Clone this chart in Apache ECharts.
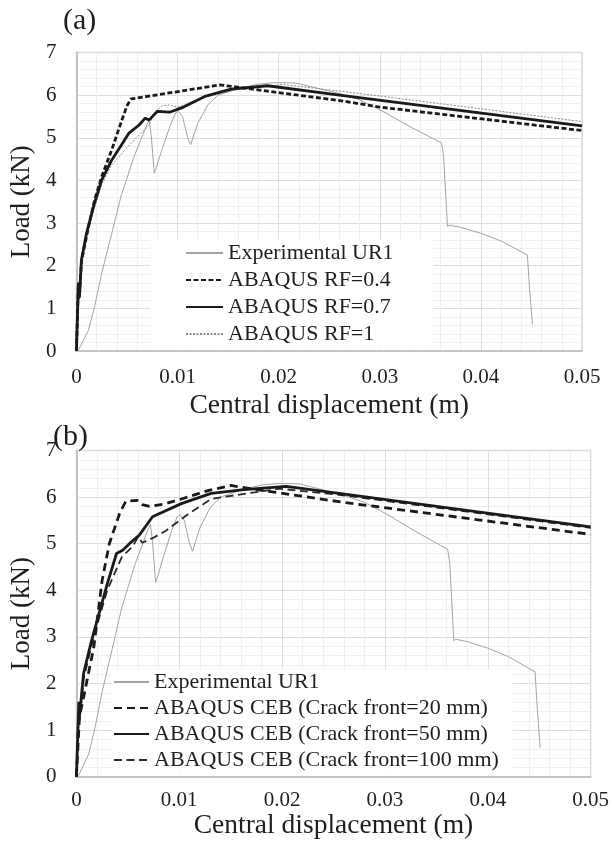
<!DOCTYPE html>
<html>
<head>
<meta charset="utf-8">
<script src="https://cdn.jsdelivr.net/npm/echarts@6/dist/echarts.min.js"></script>
<style>html,body{margin:0;padding:0;background:#fff}#c{width:612px;height:841px}</style>
</head>
<body>
<div id="c"></div>
<script>
// ---------- data ----------
const xTickLabels = ['0', '0.01', '0.02', '0.03', '0.04', '0.05'];
const yTickLabels = ['0', '1', '2', '3', '4', '5', '6', '7'];

const experimentalUR1 = [
  [0,0],[0.0002,0.02],[0.0012,0.49],[0.0018,1.04],[0.0025,1.82],[0.0035,2.76],[0.0044,3.62],
  [0.0057,4.56],[0.0069,5.27],[0.0072,5.42],[0.0074,5.05],[0.0077,4.17],[0.0079,4.3],[0.0085,4.75],
  [0.0093,5.3],[0.0098,5.58],[0.0101,5.62],[0.0105,5.5],[0.0110,5.0],[0.0113,4.84],[0.0120,5.34],
  [0.0130,5.77],[0.0140,6.0],[0.0160,6.15],[0.0180,6.26],[0.0195,6.29],[0.0210,6.29],[0.0218,6.28],
  [0.0237,6.17],[0.0260,6.04],[0.0280,5.89],[0.0303,5.62],[0.0330,5.26],[0.0361,4.88],[0.0363,4.6],
  [0.0367,2.92],[0.0369,2.95],[0.0380,2.9],[0.0400,2.76],[0.0420,2.58],[0.0446,2.25],[0.0448,1.5],[0.0451,0.62]
];
const rf04 = [
  [0,0],[0.0002,1.6],[0.0003,1.3],[0.0005,2.1],[0.0012,2.92],[0.0018,3.54],[0.0025,4.09],[0.0035,4.72],
  [0.0044,5.35],[0.0050,5.75],[0.0054,5.91],[0.0142,6.24],[0.0264,5.86],[0.0300,5.72],[0.0500,5.17]
];
const rf07 = [
  [0,0],[0.0002,1.6],[0.0003,1.25],[0.0005,2.14],[0.0010,2.76],[0.0017,3.39],[0.0025,4.01],[0.0035,4.48],
  [0.0045,4.85],[0.0052,5.11],[0.0062,5.3],[0.0068,5.46],[0.0072,5.42],[0.0080,5.62],[0.0092,5.6],
  [0.0104,5.70],[0.0127,5.97],[0.0153,6.14],[0.0189,6.22],[0.0264,5.99],[0.0500,5.28]
];
const rf1 = [
  [0,0],[0.0002,1.5],[0.0003,1.2],[0.0005,2.0],[0.0010,2.7],[0.0017,3.3],[0.0025,3.9],[0.0035,4.37],
  [0.0054,4.87],[0.0072,5.3],[0.0078,5.62],[0.0085,5.75],[0.0092,5.77],[0.0100,5.72],[0.0127,5.95],
  [0.0160,6.14],[0.0205,6.25],[0.0300,5.98],[0.0500,5.38]
];
const ceb20 = [
  [0,0],[0.0003,1.3],[0.0006,1.6],[0.0017,2.79],[0.0025,4.21],[0.0032,5.0],[0.0042,5.65],[0.0048,5.91],
  [0.0059,5.93],[0.0064,5.84],[0.0071,5.8],[0.0085,5.85],[0.0102,5.96],[0.0128,6.14],[0.0150,6.25],
  [0.0182,6.14],[0.0259,5.89],[0.0500,5.2]
];
const ceb50 = [
  [0,0],[0.00024,1.61],[0.0003,1.3],[0.0007,2.22],[0.0014,2.86],[0.0022,3.5],[0.0030,4.14],[0.0039,4.79],
  [0.0045,4.86],[0.0053,5.03],[0.0061,5.18],[0.0074,5.58],[0.0102,5.86],[0.0131,6.08],[0.0163,6.16],
  [0.0204,6.23],[0.0259,6.07],[0.0500,5.36]
];
const ceb100 = [
  [0,0],[0.0002,1.4],[0.0003,1.2],[0.0007,2.1],[0.0014,2.75],[0.0022,3.4],[0.0030,4.0],[0.0044,4.71],
  [0.0055,4.95],[0.0060,5.15],[0.0064,5.02],[0.0075,5.13],[0.0087,5.28],[0.0109,5.64],[0.0131,5.96],
  [0.0163,6.07],[0.0198,6.18],[0.0259,6.04],[0.0500,5.34]
];

// ---------- styles ----------
const FONT = "'Liberation Serif','Times New Roman',serif";
const TXT = '#1e1e1e';

function xAxisCfg(gridIndex, labelMargin, nameGap) {
  return {
    type: 'value', gridIndex, min: 0, max: 0.05, interval: 0.01,
    name: 'Central displacement (m)', nameLocation: 'middle', nameGap,
    nameTextStyle: { fontFamily: FONT, fontSize: 27.5, color: TXT },
    axisLine: { show: true, onZero: false, lineStyle: { color: '#c4c4c4', width: 2 } },
    axisTick: { show: false },
    axisLabel: { margin: labelMargin, fontFamily: FONT, fontSize: 21, color: TXT,
      formatter: v => xTickLabels[Math.round(v / 0.01)] },
    splitLine: { show: true, lineStyle: { color: '#dcdcdc', width: 1 } },
    minorTick: { show: false, splitNumber: 5 },
    minorSplitLine: { show: true, lineStyle: { color: '#efefef', width: 1 } }
  };
}
function yAxisCfg(gridIndex) {
  return {
    type: 'value', gridIndex, min: 0, max: 7, interval: 1,
    name: 'Load (kN)', nameLocation: 'middle', nameGap: 35,
    nameTextStyle: { fontFamily: FONT, fontSize: 27, color: TXT },
    axisLine: { show: true, lineStyle: { color: '#c4c4c4', width: 2 } },
    axisTick: { show: false },
    axisLabel: { margin: 20, fontFamily: FONT, fontSize: 21, color: TXT,
      formatter: v => yTickLabels[Math.round(v)] },
    splitLine: { show: true, lineStyle: { color: '#dcdcdc', width: 1 } },
    minorTick: { show: false, splitNumber: 5 },
    minorSplitLine: { show: true, lineStyle: { color: '#efefef', width: 1 } }
  };
}
function line(name, data, idx, lineStyle, z) {
  return { type: 'line', name, data, xAxisIndex: idx, yAxisIndex: idx, symbol: 'none',
    showSymbol: false, smooth: false, lineStyle, z, animation: false, clip: true,
    itemStyle: { color: lineStyle.color } };
}
const expStyle = { color: '#a3a3a3', width: 1, type: 'solid' };

const option = {
  backgroundColor: '#fff',
  animation: false,
  title: [
    { text: '(a)', left: 63, top: 6, padding: 0, textStyle: { fontFamily: FONT, fontSize: 30, fontWeight: 'normal', color: TXT } },
    { text: '(b)', left: 53, top: 422, padding: 0, textStyle: { fontFamily: FONT, fontSize: 30, fontWeight: 'normal', color: TXT } }
  ],
  grid: [
    { left: 70, top: 52.5, width: 512, height: 298.5, show: true, borderColor: '#dcdcdc', borderWidth: 1.5, backgroundColor: 'transparent' },
    { left: 69.5, top: 450.5, width: 523, height: 326.3, show: true, borderColor: '#dcdcdc', borderWidth: 1.5, backgroundColor: 'transparent' }
  ],
  xAxis: [xAxisCfg(0, 16, 41), xAxisCfg(1, 13, 34)],
  yAxis: [yAxisCfg(0), yAxisCfg(1)],
  legend: [
    {
      orient: 'vertical', left: 150, top: 240, padding: [2, 40, 4, 35], itemGap: 5,
      itemWidth: 37, itemHeight: 14, backgroundColor: '#fff', selectedMode: false,
      itemStyle: { opacity: 0 },
      textStyle: { fontFamily: FONT, fontSize: 22, color: TXT },
      data: ['Experimental UR1', 'ABAQUS RF=0.4', 'ABAQUS RF=0.7', 'ABAQUS RF=1']
    },
    {
      orient: 'vertical', left: 112, top: 669, padding: [2, 14, 4, 1], itemGap: 4,
      itemWidth: 35, itemHeight: 14, backgroundColor: '#fff', selectedMode: false,
      itemStyle: { opacity: 0 },
      textStyle: { fontFamily: FONT, fontSize: 22, color: TXT },
      data: ['Experimental UR1 ', 'ABAQUS CEB (Crack front=20 mm)', 'ABAQUS CEB (Crack front=50 mm)', 'ABAQUS CEB (Crack front=100 mm)']
    }
  ],
  series: [
    line('Experimental UR1', experimentalUR1, 0, expStyle, 2),
    line('ABAQUS RF=1', rf1, 0, { color: '#8c8c8c', width: 1, type: [2, 1.5] }, 3),
    line('ABAQUS RF=0.4', rf04, 0, { color: '#1a1a1a', width: 2.8, type: [5, 2.5] }, 4),
    line('ABAQUS RF=0.7', rf07, 0, { color: '#1a1a1a', width: 2.8, type: 'solid' }, 5),
    line('Experimental UR1 ', experimentalUR1, 1, expStyle, 2),
    line('ABAQUS CEB (Crack front=100 mm)', ceb100, 1, { color: '#2a2a2a', width: 1.8, type: [8, 4.5] }, 3),
    line('ABAQUS CEB (Crack front=20 mm)', ceb20, 1, { color: '#1a1a1a', width: 2.8, type: [8, 5] }, 4),
    line('ABAQUS CEB (Crack front=50 mm)', ceb50, 1, { color: '#1a1a1a', width: 2.8, type: 'solid' }, 5)
  ]
};
const chart = echarts.init(document.getElementById('c'), null, { renderer: 'canvas' });
chart.setOption(option);
</script>
</body>
</html>
